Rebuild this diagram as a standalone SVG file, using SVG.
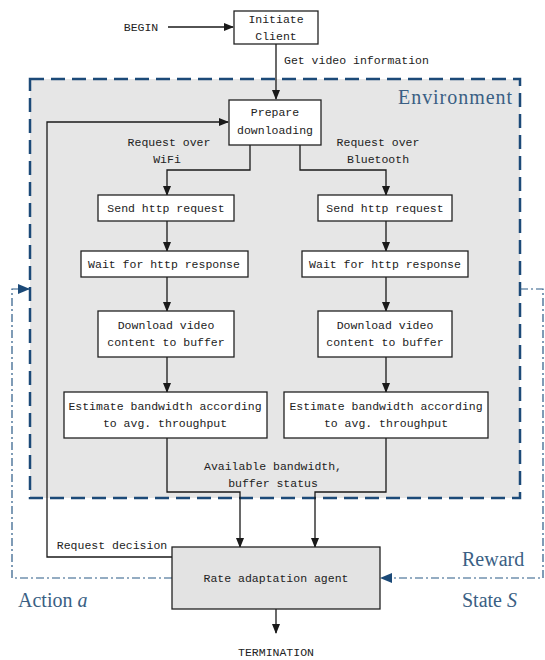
<svg xmlns="http://www.w3.org/2000/svg" width="545" height="660" viewBox="0 0 545 660">
<defs>
<marker id="ah" markerWidth="10" markerHeight="8" refX="9" refY="4" orient="auto" markerUnits="userSpaceOnUse">
<path d="M0,0 L10,4 L0,8 Z" fill="#1a1a1a"/>
</marker>
<marker id="ahb" markerWidth="12" markerHeight="10" refX="11" refY="5" orient="auto" markerUnits="userSpaceOnUse">
<path d="M0,0 L12,5 L0,10 Z" fill="#1c4a78"/>
</marker>
<style>
.box{fill:#fff;stroke:#222;stroke-width:1.3}
.t{font-family:"Liberation Mono",monospace;font-size:11.5px;fill:#222;text-anchor:middle}
.c{fill:none;stroke:#1a1a1a;stroke-width:1.3}
.dd{fill:none;stroke:#2b5a86;stroke-width:1.2;stroke-dasharray:8,3,2,3}
.big{font-family:"Liberation Serif",serif;font-size:20px;fill:#3a5f84}
</style>
</defs>
<rect width="545" height="660" fill="#fff"/>
<g id="environment">
<rect x="30" y="79" width="490" height="419" fill="#e6e6e6" stroke="#1c4a78" stroke-width="2.5" stroke-dasharray="14,7"/>
<text class="big" x="398" y="104" textLength="114">Environment</text>
</g>
<g id="connectors">
<path class="c" d="M168,27 H233" marker-end="url(#ah)"/>
<path class="c" d="M276,44 V99" marker-end="url(#ah)"/>
<path class="c" d="M172,557 H47 V122 H228" marker-end="url(#ah)"/>
<path class="c" d="M250,145 V170 H167 V195" marker-end="url(#ah)"/>
<path class="c" d="M300,145 V170 H386 V195" marker-end="url(#ah)"/>
<path class="c" d="M167,221 V251" marker-end="url(#ah)"/>
<path class="c" d="M386,221 V251" marker-end="url(#ah)"/>
<path class="c" d="M167,277 V311" marker-end="url(#ah)"/>
<path class="c" d="M386,277 V311" marker-end="url(#ah)"/>
<path class="c" d="M167,357 V392" marker-end="url(#ah)"/>
<path class="c" d="M386,357 V392" marker-end="url(#ah)"/>
<path class="c" d="M167,438 V492 H240 V547" marker-end="url(#ah)"/>
<path class="c" d="M386,438 V492 H315 V547" marker-end="url(#ah)"/>
<path class="c" d="M276,609 V633" marker-end="url(#ah)"/>
<path class="dd" d="M172,578 H12 V289 H29" marker-end="url(#ahb)"/>
<path class="dd" d="M520,289 H543 V578 H381" marker-end="url(#ahb)"/>
</g>
<g id="labels">
<text class="t" x="141" y="31">BEGIN</text>
<text class="t" x="284" y="64" text-anchor="start" style="text-anchor:start">Get video information</text>
<text class="t" x="169" y="146">Request over</text>
<text class="t" x="167" y="163">WiFi</text>
<text class="t" x="378" y="146">Request over</text>
<text class="t" x="378" y="163">Bluetooth</text>
<text class="t" x="273" y="470">Available bandwidth,</text>
<text class="t" x="273" y="487">buffer status</text>
<text class="t" x="112" y="549">Request decision</text>
<text class="t" x="276" y="656">TERMINATION</text>
<text class="big" x="18" y="607">Action <tspan font-style="italic">a</tspan></text>
<text class="big" x="462" y="566">Reward</text>
<text class="big" x="462" y="607">State <tspan font-style="italic">S</tspan></text>
</g>
<g id="initiate-client">
<rect class="box" x="234" y="11" width="84" height="33"/>
<text class="t" x="276" y="23">Initiate</text>
<text class="t" x="276" y="40">Client</text>
</g>
<g id="prepare-downloading">
<rect class="box" x="229" y="100" width="92" height="45"/>
<text class="t" x="275" y="116">Prepare</text>
<text class="t" x="275" y="134">downloading</text>
</g>
<g id="send-wifi">
<rect class="box" x="98" y="195" width="136" height="26"/>
<text class="t" x="166" y="212">Send http request</text>
</g>
<g id="send-bt">
<rect class="box" x="318" y="195" width="134" height="26"/>
<text class="t" x="385" y="212">Send http request</text>
</g>
<g id="wait-wifi">
<rect class="box" x="81" y="251" width="167" height="26"/>
<text class="t" x="164" y="268">Wait for http response</text>
</g>
<g id="wait-bt">
<rect class="box" x="302" y="251" width="166" height="26"/>
<text class="t" x="385" y="268">Wait for http response</text>
</g>
<g id="download-wifi">
<rect class="box" x="98" y="311" width="136" height="46"/>
<text class="t" x="166" y="329">Download video</text>
<text class="t" x="166" y="346">content to buffer</text>
</g>
<g id="download-bt">
<rect class="box" x="318" y="311" width="134" height="46"/>
<text class="t" x="385" y="329">Download video</text>
<text class="t" x="385" y="346">content to buffer</text>
</g>
<g id="estimate-wifi">
<rect class="box" x="64" y="392" width="203" height="46"/>
<text class="t" x="165" y="410">Estimate bandwidth according</text>
<text class="t" x="165" y="427">to avg. throughput</text>
</g>
<g id="estimate-bt">
<rect class="box" x="284" y="392" width="204" height="46"/>
<text class="t" x="386" y="410">Estimate bandwidth according</text>
<text class="t" x="386" y="427">to avg. throughput</text>
</g>
<g id="rate-agent">
<rect x="172" y="547" width="208" height="62" fill="#e3e3e3" stroke="#222" stroke-width="1.3"/>
<text class="t" x="276" y="582">Rate adaptation agent</text>
</g>
</svg>
